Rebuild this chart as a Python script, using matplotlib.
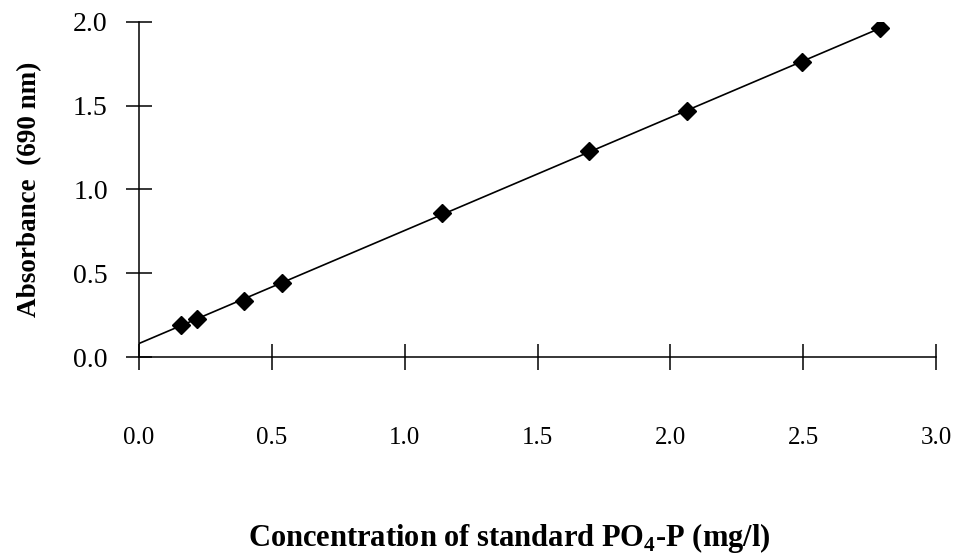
import matplotlib
matplotlib.use("Agg")
import matplotlib.pyplot as plt
import numpy as np

# standard PO4-P concentrations (mg/l) and absorbance at 690 nm
concentration = [0.157, 0.218, 0.396, 0.537, 1.14, 1.695, 2.063, 2.497, 2.79]
absorbance = [0.191, 0.227, 0.337, 0.442, 0.86, 1.23, 1.469, 1.761, 1.964]

x_ticks = [0.0, 0.5, 1.0, 1.5, 2.0, 2.5, 3.0]
y_ticks = [0.0, 0.5, 1.0, 1.5, 2.0]

plt.rcParams['font.family'] = ['Liberation Serif', 'DejaVu Serif']
plt.rcParams['mathtext.fontset'] = 'custom'
plt.rcParams['mathtext.rm'] = 'Liberation Serif'
plt.rcParams['mathtext.bf'] = 'Liberation Serif:bold'

fig = plt.figure(figsize=(9.58, 5.58), dpi=100)
ax = fig.add_axes([0.1451, 0.3602, 0.832, 0.6004])

# regression line from the data
slope, intercept = np.polyfit(concentration, absorbance, 1)
line_x = np.array([0.0, max(concentration) + 0.02])
ax.plot(line_x, intercept + slope * line_x, color='black', linewidth=1.2, zorder=2)

ax.plot(concentration, absorbance, linestyle='none', marker='D', markersize=9,
        color='black', zorder=3)

ax.set_xlim(0, 3.0)
ax.set_ylim(0, 2.0)
ax.set_xticks(x_ticks)
ax.set_yticks(y_ticks)
ax.set_xticklabels(['%.1f' % v for v in x_ticks])
ax.set_yticklabels(['%.1f' % v for v in y_ticks])

for side in ['top', 'right']:
    ax.spines[side].set_visible(False)
for side in ['left', 'bottom']:
    ax.spines[side].set_linewidth(1.1)

ax.tick_params(axis='x', direction='inout', length=19, width=1.1, pad=41, labelsize=18)
ax.tick_params(axis='y', direction='inout', length=19, width=1.1, pad=13, labelsize=20)

ax.set_xlabel('Concentration of standard PO$_\\mathbf{4}$-P (mg/l)', fontsize=22,
              fontweight='bold', labelpad=52, x=0.464)
ax.set_ylabel('Absorbance  (690 nm)', fontsize=19.5, fontweight='bold', labelpad=22)

fig.savefig('out.png', dpi=100)
